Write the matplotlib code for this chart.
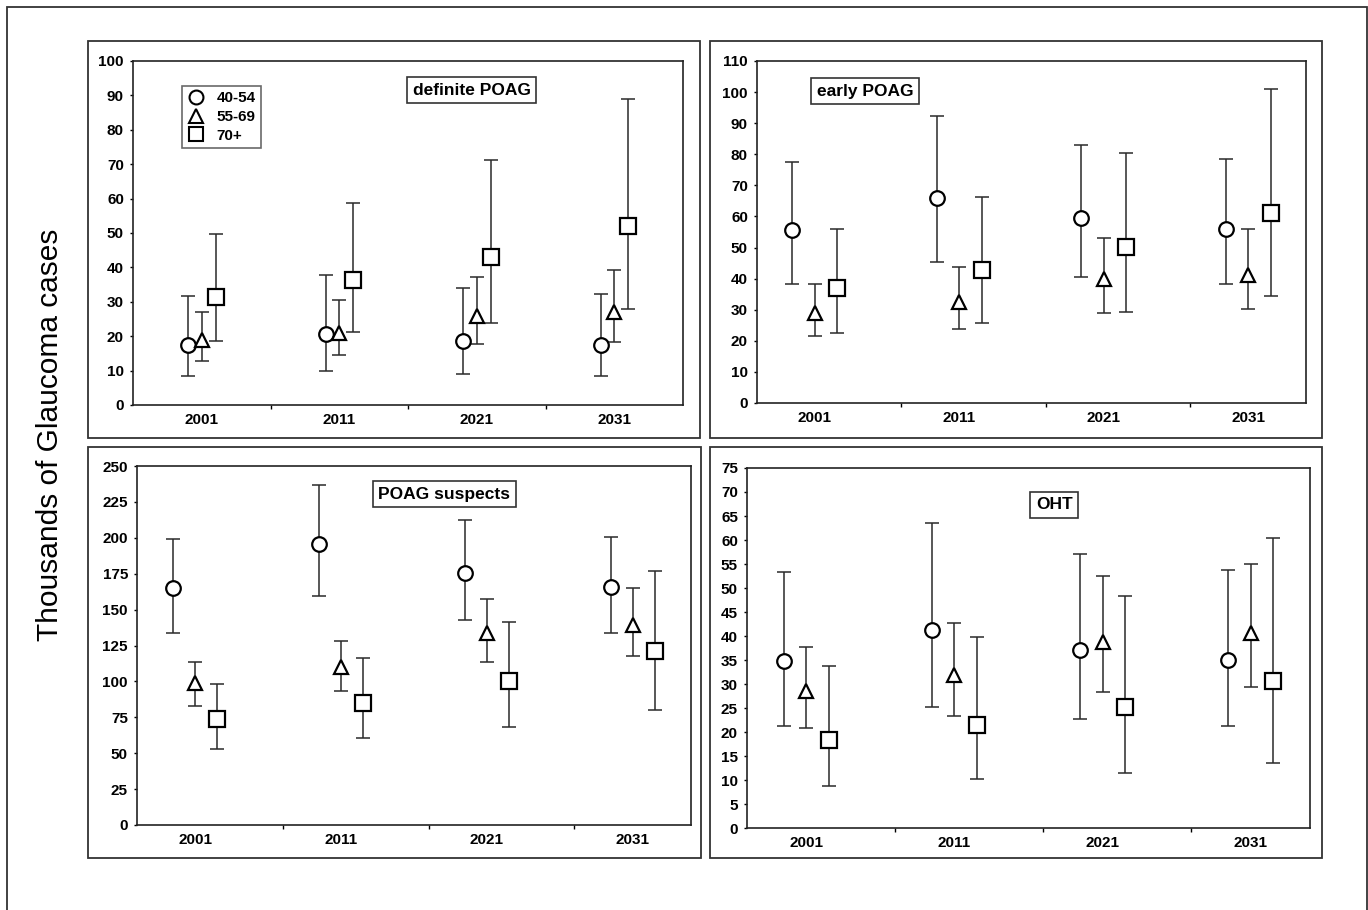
import matplotlib.pyplot as plt
import numpy as np
from matplotlib.lines import Line2D
from matplotlib.patches import Rectangle

plt.rcParams['font.family'] = ['Liberation Sans', 'DejaVu Sans']
plt.rcParams['font.weight'] = 'bold'

years = ['2001', '2011', '2021', '2031']
ages = ['40-54', '55-69', '70+']
markers = ['o', '^', 's']

# rows = age groups (40-54, 55-69, 70+), columns = years
def_mid = [[17.3, 20.7, 18.5, 17.3], [19.0, 21.0, 25.8, 27.0], [31.4, 36.4, 43.0, 51.9]]
def_lo = [[8.4, 10.0, 9.1, 8.4], [12.8, 14.6, 17.7, 18.3], [18.5, 21.1, 23.9, 28.0]]
def_hi = [[31.8, 37.8, 34.0, 32.2], [27.1, 30.6, 37.2, 39.2], [49.7, 58.6, 71.2, 89.0]]

early_mid = [[55.6, 65.8, 59.4, 55.9], [28.9, 32.6, 39.8, 41.2], [36.9, 42.8, 50.3, 61.0]]
early_lo = [[38.2, 45.3, 40.4, 38.2], [21.4, 23.9, 29.0, 30.3], [22.6, 25.7, 29.3, 34.5]]
early_hi = [[77.6, 92.3, 83.1, 78.5], [38.4, 43.6, 53.2, 55.9], [56.1, 66.3, 80.5, 101.0]]

susp_mid = [[164.7, 195.7, 175.8, 165.6], [98.6, 110.2, 133.8, 139.6], [73.5, 85.3, 100.6, 121.5]]
susp_lo = [[134.0, 159.6, 142.6, 134.0], [83.0, 93.5, 113.6, 117.8], [52.9, 60.3, 68.4, 80.0]]
susp_hi = [[199.2, 236.5, 212.4, 200.8], [113.6, 127.8, 157.2, 164.7], [98.3, 116.4, 141.2, 177.2]]

oht_mid = [[34.7, 41.3, 37.0, 34.9], [28.5, 31.9, 38.8, 40.7], [18.4, 21.5, 25.2, 30.6]]
oht_lo = [[21.3, 25.2, 22.7, 21.3], [20.8, 23.3, 28.4, 29.4], [8.8, 10.2, 11.5, 13.5]]
oht_hi = [[53.3, 63.5, 57.1, 53.8], [37.8, 42.8, 52.5, 55.0], [33.7, 39.7, 48.3, 60.5]]

W, H = 1368, 910
fig = plt.figure(figsize=(W / 100, H / 100), dpi=100)


def px_axes(l, t, r, b):
    return fig.add_axes([l / W, 1 - b / H, (r - l) / W, (b - t) / H])


def px_box(l, t, r, b, lw=1.3):
    fig.add_artist(Rectangle((l / W, 1 - b / H), (r - l) / W, (b - t) / H,
                             transform=fig.transFigure, fill=False,
                             ec='#333333', lw=lw, clip_on=False))


def panel(ax, mid, lo, hi, ymax, ystep, xmax, centre, off, title, txy):
    x0 = np.arange(len(years)) + centre
    for i in range(3):
        x = x0 + (i - 1) * off
        m = np.array(mid[i])
        yerr = [m - np.array(lo[i]), np.array(hi[i]) - m]
        ax.errorbar(x, m, yerr=yerr, fmt='none', ecolor='#2a2a2a',
                    elinewidth=1.1, capsize=5, capthick=1.1, zorder=2)
        ax.plot(x, m, ls='none', marker=markers[i], ms=11 if i == 2 else 10.5,
                mfc='white', mec='black', mew=1.6, zorder=3)
    ax.set_xlim(0, xmax)
    ax.set_ylim(0, ymax)
    ax.set_yticks(np.arange(0, ymax + 0.1, ystep))
    ax.set_xticks([1, 2, 3])
    ax.set_xticklabels([])
    ax.set_xticks(x0, minor=True)
    ax.set_xticklabels(years, minor=True)
    ax.tick_params(axis='y', direction='out', length=2.5, width=1, pad=4, labelsize=11)
    ax.tick_params(axis='x', which='major', direction='out', length=3, width=1)
    ax.tick_params(axis='x', which='minor', length=0, pad=6, labelsize=11)
    for s in ax.spines.values():
        s.set_linewidth(1.2)
        s.set_color('#222222')
    ax.text(txy[0], txy[1], title, transform=ax.transAxes, ha='center', va='center',
            fontsize=12.5, fontweight='bold', zorder=5,
            bbox=dict(boxstyle='square,pad=0.32', fc='white', ec='#333333', lw=1.2))


# outer frame, open at the bottom
fig.add_artist(Rectangle((7 / W, -0.05), 1360 / W, (H - 7) / H + 0.05,
                         transform=fig.transFigure, fill=False, ec='#333333',
                         lw=1.3, clip_on=False))

px_box(88, 41, 700, 438)
px_box(710, 41, 1322, 438)
px_box(88, 447, 701, 858)
px_box(710, 447, 1322, 858)

ax1 = px_axes(133, 61, 683, 405)
panel(ax1, def_mid, def_lo, def_hi, 100, 10, 4, 0.5, 0.1, 'definite POAG', (0.616, 0.915))

ax2 = px_axes(757, 61, 1306, 403)
panel(ax2, early_mid, early_lo, early_hi, 110, 10, 3.8, 0.4, 0.155, 'early POAG', (0.197, 0.912))

ax3 = px_axes(137, 466, 691, 825)
panel(ax3, susp_mid, susp_lo, susp_hi, 250, 25, 3.8, 0.4, 0.15, 'POAG suspects', (0.555, 0.922))

ax4 = px_axes(747, 468, 1310, 828)
panel(ax4, oht_mid, oht_lo, oht_hi, 75, 5, 3.8, 0.4, 0.153, 'OHT', (0.546, 0.898))

handles = [Line2D([], [], ls='none', marker=markers[i], ms=10, mfc='white',
                  mec='black', mew=1.5) for i in range(3)]
leg = ax1.legend(handles, ages, loc='upper left', bbox_to_anchor=(0.089, 0.927),
                 frameon=True, fancybox=False, edgecolor='#444444', fontsize=11,
                 handlelength=1.2, handletextpad=0.7, borderpad=0.35,
                 labelspacing=0.3, borderaxespad=0)
leg.get_frame().set_linewidth(1.2)

fig.text(50 / W, 1 - 435 / H, 'Thousands of Glaucoma cases', rotation=90,
         ha='center', va='center', fontsize=21.5, fontweight='normal')

plt.savefig('out.png', dpi=100)
